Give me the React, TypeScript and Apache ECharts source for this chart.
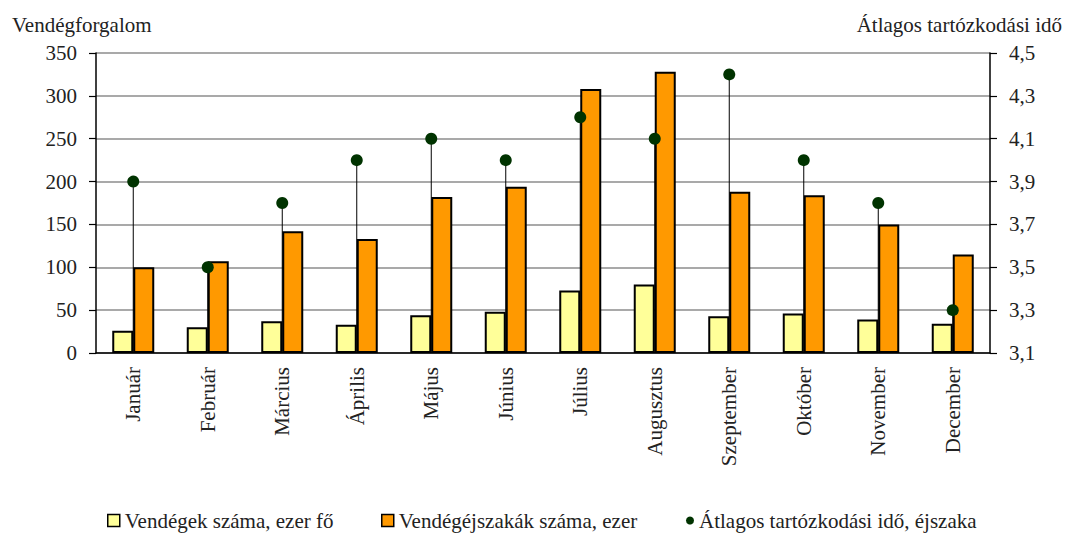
import React, { useEffect, useRef } from "react";
import * as echarts from "echarts";

const months = ["Január", "Február", "Március", "Április", "Május", "Június", "Július", "Augusztus", "Szeptember", "Október", "November", "December"];
const guests = [26, 30, 37, 33, 44, 48, 73, 80, 43, 46, 39, 34];
const nights = [100, 107, 142, 133, 182, 194, 308, 328, 188, 184, 150, 115];
const avgStay = [3.9, 3.5, 3.8, 4.0, 4.1, 4.0, 4.2, 4.1, 4.4, 4.0, 3.8, 3.3];
const rightMin = 3.1;
const leftTitle = "Vendégforgalom";
const rightTitle = "Átlagos tartózkodási idő";
const sGuests = "Vendégek száma, ezer fő";
const sNights = "Vendégéjszakák száma, ezer";
const sStay = "Átlagos tartózkodási idő, éjszaka";

const FONT = "Liberation Serif";
const FS = 21;
const TXT = "#222";

export default function App() {
  const ref = useRef<HTMLDivElement>(null);
  useEffect(() => {
    if (!ref.current) return;
    const chart = echarts.init(ref.current, undefined, { renderer: "svg" });
    const stayRel = avgStay.map((v) => +(v - rightMin).toFixed(2));
    const legendBase = {
      top: 510,
      orient: "horizontal" as const,
      textStyle: { fontFamily: FONT, fontSize: FS, color: TXT },
      itemGap: 0,
      padding: 0,
    };
    chart.setOption({
      animation: false,
      textStyle: { fontFamily: FONT },
      grid: { left: 96, right: 82, top: 53, bottom: 181, containLabel: false },
      graphic: [
        { type: "text", left: 12, top: 14, style: { text: leftTitle, fontFamily: FONT, fontSize: FS, fill: TXT } },
        { type: "text", right: 10, top: 14, style: { text: rightTitle, fontFamily: FONT, fontSize: FS, fill: TXT } },
      ],
      legend: [
        { ...legendBase, left: 107, data: [{ name: sGuests, icon: "rect" }], itemWidth: 12, itemHeight: 12, itemStyle: { borderColor: "#000", borderWidth: 1.5 } },
        { ...legendBase, left: 381, data: [{ name: sNights, icon: "rect" }], itemWidth: 12, itemHeight: 12, itemStyle: { borderColor: "#000", borderWidth: 1.5 } },
        { ...legendBase, left: 686, data: [{ name: sStay, icon: "circle" }], itemWidth: 8, itemHeight: 8 },
      ],
      xAxis: {
        type: "category",
        data: months,
        axisTick: { show: false },
        axisLine: { show: true, lineStyle: { color: "#000", width: 1.5 } },
        axisLabel: { rotate: 90, margin: 14, fontFamily: FONT, fontSize: FS, color: TXT },
      },
      yAxis: [
        {
          type: "value",
          min: 0,
          max: 350,
          interval: 50,
          axisLine: { show: true, lineStyle: { color: "#000", width: 1.5 } },
          axisTick: { show: true, length: 7, lineStyle: { color: "#000", width: 1.2 } },
          axisLabel: { margin: 19, fontFamily: FONT, fontSize: FS, color: TXT },
          splitLine: { show: true, lineStyle: { color: "#8c8c8c", width: 1.5 } },
        },
        {
          type: "value",
          min: 0,
          max: 1.4,
          interval: 0.2,
          position: "right",
          axisLine: { show: true, lineStyle: { color: "#000", width: 1.5 } },
          axisTick: { show: true, length: 7, lineStyle: { color: "#000", width: 1.2 } },
          axisLabel: {
            margin: 19,
            fontFamily: FONT,
            fontSize: FS,
            color: TXT,
            formatter: (v: number) => (v + rightMin).toFixed(1).replace(".", ","),
          },
          splitLine: { show: false },
        },
      ],
      series: [
        {
          type: "custom",
          yAxisIndex: 1,
          z: 1,
          silent: true,
          data: stayRel.map((v, i) => [i, v]),
          renderItem: (params: any, api: any) => {
            const top = api.coord([api.value(0), api.value(1)]);
            const bottom = api.coord([api.value(0), 0]);
            return {
              type: "line",
              shape: { x1: top[0], y1: top[1], x2: bottom[0], y2: bottom[1] },
              style: { stroke: "#000", lineWidth: 1 },
            };
          },
        },
        {
          name: sGuests,
          type: "bar",
          z: 2,
          barWidth: 21,
          barGap: "0%",
          data: guests,
          itemStyle: { color: "#FFFF99", borderColor: "#000", borderWidth: 2 },
        },
        {
          name: sNights,
          type: "bar",
          z: 2,
          barWidth: 21,
          barGap: "0%",
          data: nights,
          itemStyle: { color: "#FF9900", borderColor: "#000", borderWidth: 2 },
        },
        {
          name: sStay,
          type: "scatter",
          yAxisIndex: 1,
          z: 3,
          symbolSize: 12,
          data: stayRel,
          itemStyle: { color: "#003300", opacity: 1 },
        },
      ],
    });
    return () => chart.dispose();
  }, []);
  return <div ref={ref} style={{ position: "absolute", left: 0, top: 0, width: 1072, height: 534 }} />;
}
